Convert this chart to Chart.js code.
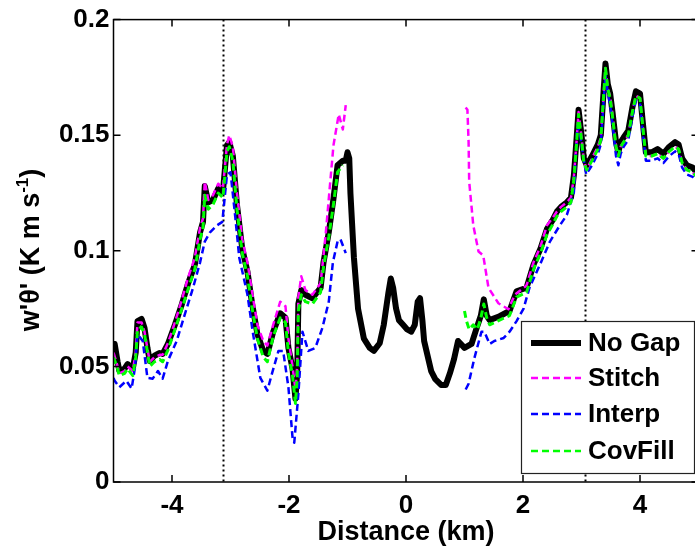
<!DOCTYPE html>
<html><head><meta charset="utf-8">
<script src="https://cdn.jsdelivr.net/npm/chart.js@4.4.1/dist/chart.umd.min.js"></script>
<style>
html,body{margin:0;padding:0;background:#fff;overflow:hidden;width:695px;height:551px;}
#wrap{position:relative;width:700px;height:551px;}
canvas{display:block;}
</style></head><body>
<div id="wrap"><canvas id="c" width="700" height="551"></canvas></div>
<script>
// ---------- DATA ----------
const xTickValues = [-4, -2, 0, 2, 4];
const yTickLabels = ['0', '0.05', '0.1', '0.15', '0.2'];
const markerLines = [-3.12, 3.06];
const seriesNames = ['No Gap', 'Stitch', 'Interp', 'CovFill'];

const noGapX = [-5.00,-4.98,-4.93,-4.90,-4.81,-4.76,-4.67,-4.62,-4.59,-4.52,-4.47,-4.42,-4.38,-4.30,-4.21,-4.16,-4.07,-3.95,-3.83,-3.73,-3.61,-3.52,-3.47,-3.44,-3.38,-3.30,-3.21,-3.13,-3.06,-3.02,-2.96,-2.89,-2.80,-2.71,-2.63,-2.54,-2.44,-2.37,-2.27,-2.15,-2.06,-2.01,-1.94,-1.89,-1.86,-1.84,-1.79,-1.72,-1.60,-1.46,-1.41,-1.32,-1.24,-1.17,-1.08,-1.03,-1.00,-0.97,-0.95,-0.89,-0.82,-0.72,-0.62,-0.55,-0.45,-0.38,-0.30,-0.26,-0.22,-0.17,-0.12,-0.05,0.02,0.09,0.15,0.20,0.24,0.28,0.31,0.43,0.50,0.60,0.68,0.75,0.82,0.89,1.00,1.12,1.20,1.28,1.33,1.38,1.43,1.60,1.77,1.89,2.06,2.18,2.30,2.41,2.50,2.58,2.65,2.75,2.82,2.87,2.92,2.95,3.00,3.04,3.09,3.18,3.28,3.33,3.38,3.41,3.45,3.49,3.53,3.59,3.63,3.67,3.72,3.80,3.87,3.93,4.00,4.05,4.10,4.20,4.30,4.40,4.50,4.60,4.66,4.72,4.80,4.90,5.00];
const noGapY = [0.058,0.0597,0.052,0.048,0.049,0.051,0.049,0.056,0.0696,0.0705,0.0666,0.058,0.0524,0.0546,0.0558,0.0554,0.0597,0.068,0.077,0.0855,0.094,0.108,0.1125,0.128,0.121,0.122,0.127,0.1254,0.1456,0.147,0.141,0.12,0.101,0.091,0.077,0.064,0.0567,0.0554,0.065,0.073,0.071,0.058,0.049,0.036,0.047,0.077,0.083,0.081,0.0795,0.084,0.095,0.108,0.1225,0.137,0.139,0.139,0.1426,0.140,0.125,0.097,0.075,0.062,0.058,0.0567,0.060,0.068,0.082,0.088,0.084,0.075,0.070,0.068,0.066,0.065,0.068,0.078,0.0795,0.070,0.061,0.048,0.0445,0.042,0.042,0.047,0.053,0.061,0.058,0.0597,0.066,0.072,0.079,0.072,0.070,0.0717,0.074,0.0825,0.084,0.094,0.101,0.1095,0.113,0.117,0.119,0.121,0.123,0.1327,0.150,0.161,0.150,0.140,0.137,0.141,0.146,0.150,0.170,0.181,0.172,0.168,0.160,0.147,0.1426,0.147,0.149,0.152,0.162,0.169,0.168,0.155,0.1426,0.1426,0.144,0.142,0.145,0.147,0.146,0.140,0.137,0.136,0.133];

const stitchLeftX = [-5.00,-4.93,-4.90,-4.81,-4.76,-4.67,-4.62,-4.59,-4.52,-4.47,-4.38,-4.30,-4.21,-4.16,-4.07,-3.95,-3.83,-3.73,-3.61,-3.52,-3.47,-3.44,-3.38,-3.30,-3.21,-3.13,-3.06,-3.02,-2.96,-2.89,-2.80,-2.71,-2.63,-2.54,-2.44,-2.37,-2.27,-2.15,-2.06,-2.01,-1.94,-1.89,-1.86,-1.84,-1.79,-1.72,-1.60,-1.46,-1.41,-1.37,-1.32,-1.24,-1.15,-1.08,-1.03];
const stitchLeftY = [0.056,0.050,0.047,0.048,0.050,0.048,0.056,0.069,0.069,0.065,0.052,0.054,0.055,0.055,0.060,0.069,0.079,0.088,0.097,0.110,0.114,0.130,0.122,0.124,0.129,0.127,0.146,0.150,0.145,0.125,0.105,0.095,0.082,0.068,0.061,0.059,0.068,0.078,0.076,0.062,0.050,0.040,0.050,0.080,0.089,0.083,0.081,0.086,0.098,0.108,0.1225,0.1456,0.159,0.1525,0.163];
const stitchRightX = [1.02,1.05,1.07,1.08,1.15,1.24,1.32,1.41,1.58,1.75,1.86,2.06,2.18,2.30,2.41,2.50,2.58,2.65,2.75,2.82,2.87,2.92,2.95,3.00,3.04,3.09,3.18,3.28,3.33,3.38,3.41,3.45,3.49,3.53,3.59,3.63,3.67,3.72,3.80,3.87,3.93,4.00,4.05,4.10,4.20,4.30,4.40,4.50,4.60,4.66,4.72,4.80,4.90,5.00];
const stitchRightY = [0.162,0.161,0.147,0.130,0.111,0.0997,0.098,0.084,0.0773,0.0747,0.081,0.085,0.095,0.102,0.111,0.114,0.117,0.119,0.121,0.123,0.132,0.149,0.160,0.149,0.139,0.135,0.140,0.145,0.149,0.168,0.179,0.170,0.167,0.159,0.145,0.141,0.145,0.147,0.150,0.160,0.167,0.166,0.153,0.141,0.141,0.142,0.140,0.143,0.145,0.144,0.138,0.135,0.134,0.131];

const interpLeftX = [-5.00,-4.98,-4.90,-4.78,-4.69,-4.63,-4.59,-4.50,-4.42,-4.33,-4.24,-4.16,-4.07,-3.92,-3.78,-3.64,-3.52,-3.44,-3.35,-3.23,-3.14,-3.06,-3.00,-2.92,-2.85,-2.71,-2.62,-2.49,-2.37,-2.29,-2.18,-2.10,-2.01,-1.94,-1.91,-1.84,-1.77,-1.67,-1.55,-1.43,-1.32,-1.25,-1.17,-1.12,-1.03];
const interpLeftY = [0.045,0.0438,0.041,0.0438,0.0404,0.050,0.064,0.061,0.045,0.0447,0.048,0.0447,0.0524,0.061,0.0726,0.084,0.095,0.104,0.108,0.111,0.1125,0.133,0.134,0.115,0.097,0.081,0.065,0.045,0.0395,0.047,0.0567,0.0567,0.041,0.0193,0.017,0.038,0.065,0.0567,0.058,0.0666,0.078,0.095,0.104,0.105,0.099];
const interpRightX = [1.02,1.07,1.17,1.29,1.34,1.43,1.51,1.67,1.77,1.89,2.01,2.11,2.29,2.46,2.63,2.75,2.87,2.93,2.97,3.03,3.08,3.18,3.28,3.33,3.38,3.41,3.45,3.49,3.53,3.59,3.63,3.67,3.72,3.80,3.87,3.93,4.00,4.05,4.10,4.20,4.30,4.40,4.50,4.60,4.66,4.72,4.80,4.90,5.00];
const interpRightY = [0.040,0.0425,0.0537,0.065,0.065,0.0597,0.061,0.0623,0.065,0.0696,0.075,0.084,0.094,0.104,0.111,0.1155,0.1254,0.154,0.151,0.141,0.133,0.137,0.142,0.146,0.165,0.176,0.168,0.163,0.155,0.141,0.137,0.142,0.145,0.148,0.158,0.165,0.164,0.150,0.139,0.139,0.140,0.138,0.141,0.143,0.142,0.136,0.133,0.132,0.130];

const covLeftX = [-5.00,-4.93,-4.90,-4.81,-4.76,-4.67,-4.62,-4.59,-4.52,-4.47,-4.38,-4.30,-4.21,-4.16,-4.07,-3.95,-3.83,-3.73,-3.61,-3.52,-3.47,-3.44,-3.38,-3.30,-3.21,-3.13,-3.06,-3.02,-2.96,-2.89,-2.80,-2.71,-2.63,-2.54,-2.44,-2.37,-2.27,-2.15,-2.06,-2.01,-1.94,-1.89,-1.86,-1.84,-1.79,-1.72,-1.60,-1.46,-1.41,-1.32,-1.24,-1.17,-1.08];
const covLeftY = [0.054,0.049,0.046,0.047,0.049,0.046,0.054,0.066,0.067,0.064,0.050,0.052,0.053,0.052,0.057,0.066,0.075,0.083,0.092,0.105,0.110,0.124,0.118,0.120,0.125,0.123,0.143,0.145,0.139,0.118,0.099,0.089,0.075,0.062,0.054,0.052,0.063,0.071,0.069,0.056,0.046,0.034,0.045,0.074,0.081,0.078,0.077,0.082,0.093,0.106,0.120,0.134,0.137];
const covRightX = [1.00,1.03,1.08,1.15,1.22,1.28,1.33,1.38,1.43,1.60,1.77,1.89,2.06,2.18,2.30,2.41,2.50,2.58,2.65,2.75,2.82,2.87,2.92,2.95,3.00,3.04,3.09,3.18,3.28,3.33,3.38,3.41,3.45,3.49,3.53,3.59,3.63,3.67,3.72,3.80,3.87,3.93,4.00,4.05,4.10,4.20,4.30,4.40,4.50,4.60,4.66,4.72,4.80,4.90,5.00];
const covRightY = [0.074,0.070,0.066,0.068,0.066,0.071,0.077,0.071,0.068,0.070,0.072,0.080,0.082,0.092,0.099,0.107,0.111,0.115,0.117,0.119,0.121,0.131,0.148,0.159,0.148,0.138,0.135,0.139,0.144,0.148,0.168,0.179,0.170,0.166,0.158,0.145,0.141,0.145,0.147,0.150,0.160,0.167,0.166,0.153,0.141,0.141,0.142,0.140,0.143,0.145,0.144,0.138,0.135,0.134,0.131];

// ---------- BUILD ----------
function pts(xs, ys) { return xs.map((x, i) => ({x: x, y: ys[i]})); }
function joined(lx, ly, rx, ry) { return pts(lx, ly).concat([{x: 0, y: null}], pts(rx, ry)); }

const FONT = '"Liberation Sans", Arial, sans-serif';
const colors = ['#000000', '#ff00ff', '#0000ff', '#00ff00'];
const widths = [6, 2.5, 2.5, 3];
const dashes = [[], [7, 4], [7, 4], [7, 4]];

const datasets = [
  {label: seriesNames[0], data: pts(noGapX, noGapY), order: 4},
  {label: seriesNames[1], data: joined(stitchLeftX, stitchLeftY, stitchRightX, stitchRightY), order: 3},
  {label: seriesNames[2], data: joined(interpLeftX, interpLeftY, interpRightX, interpRightY), order: 2},
  {label: seriesNames[3], data: joined(covLeftX, covLeftY, covRightX, covRightY), order: 1}
].map((d, i) => Object.assign(d, {
  borderColor: colors[i], backgroundColor: colors[i], borderWidth: widths[i], borderDash: dashes[i],
  pointRadius: 0, tension: 0, spanGaps: false, fill: false, borderJoinStyle: 'round', borderCapStyle: i === 0 ? 'round' : 'butt'
}));

const framePlugin = {
  id: 'frame',
  beforeDatasetsDraw(chart) {
    const {ctx, chartArea: a, scales: {x}} = chart;
    ctx.save();
    ctx.strokeStyle = '#000'; ctx.lineWidth = 2; ctx.setLineDash([2, 3]);
    markerLines.forEach(v => {
      const px = Math.round(x.getPixelForValue(v)) + 0.5;
      ctx.beginPath(); ctx.moveTo(px, a.top); ctx.lineTo(px, a.bottom); ctx.stroke();
    });
    ctx.restore();
  },
  afterDraw(chart) {
    const {ctx, chartArea: a, scales: {x, y}} = chart;
    ctx.save();
    ctx.strokeStyle = '#000'; ctx.lineWidth = 1.5; ctx.setLineDash([]);
    ctx.strokeRect(a.left, a.top, a.right - a.left, a.bottom - a.top);
    const tl = 7;
    ctx.beginPath();
    xTickValues.forEach(v => {
      const px = x.getPixelForValue(v);
      ctx.moveTo(px, a.bottom); ctx.lineTo(px, a.bottom - tl);
      ctx.moveTo(px, a.top); ctx.lineTo(px, a.top + tl);
    });
    yTickLabels.forEach(s => {
      const py = y.getPixelForValue(parseFloat(s));
      ctx.moveTo(a.left, py); ctx.lineTo(a.left + tl, py);
      ctx.moveTo(a.right, py); ctx.lineTo(a.right - tl, py);
    });
    ctx.stroke();

    // legend
    const bx = 521, by = 321, bw = 173, bh = 152;
    ctx.fillStyle = '#fff'; ctx.fillRect(bx, by, bw, bh);
    ctx.lineWidth = 1.2; ctx.strokeStyle = '#222'; ctx.strokeRect(bx + 0.5, by + 0.5, bw, bh);
    const rows = [343, 378, 414, 451];
    ctx.font = 'bold 26px ' + FONT; ctx.textBaseline = 'middle'; ctx.textAlign = 'left';
    seriesNames.forEach((n, i) => {
      ctx.strokeStyle = colors[i]; ctx.lineWidth = i === 0 ? 6 : 2.5;
      ctx.setLineDash(dashes[i]);
      ctx.beginPath(); ctx.moveTo(531, rows[i]); ctx.lineTo(581, rows[i]); ctx.stroke();
      ctx.setLineDash([]);
      ctx.fillStyle = '#000'; ctx.fillText(n, 588, rows[i] + 1);
    });

    // y title with superscript
    ctx.translate(32, 250); ctx.rotate(-Math.PI / 2);
    const f1 = 'bold 27px ' + FONT, f2 = 'bold 17px ' + FONT;
    const t1 = "w'\u03b8' (K m s", t2 = '-1', t3 = ')';
    ctx.font = f1; const w1 = ctx.measureText(t1).width, w3 = ctx.measureText(t3).width;
    ctx.font = f2; const w2 = ctx.measureText(t2).width;
    let sx = -(w1 + w2 + w3) / 2;
    ctx.fillStyle = '#000'; ctx.textBaseline = 'middle';
    ctx.font = f1; ctx.fillText(t1, sx, 0);
    ctx.font = f2; ctx.fillText(t2, sx + w1, -9);
    ctx.font = f1; ctx.fillText(t3, sx + w1 + w2, 0);
    ctx.restore();
  }
};

new Chart(document.getElementById('c'), {
  type: 'line',
  data: {datasets: datasets},
  options: {
    responsive: false, animation: false, devicePixelRatio: 1,
    layout: {padding: {left: 0, right: 1.5, top: 16, bottom: 0}},
    plugins: {legend: {display: false}, tooltip: {enabled: false}},
    scales: {
      x: {
        type: 'linear', min: -5, max: 5,
        grid: {display: false, drawTicks: false}, border: {display: false},
        afterBuildTicks: s => { s.ticks = xTickValues.map(v => ({value: v})); },
        afterFit: s => { s.height = 69; },
        ticks: {color: '#000', padding: 8, maxRotation: 0, font: {family: FONT, size: 26, weight: 'bold'},
                callback: v => String(v)},
        title: {display: true, text: 'Distance (km)', color: '#000', padding: {top: 0, bottom: 8},
                font: {family: FONT, size: 27, weight: 'bold', lineHeight: 0.8}}
      },
      y: {
        type: 'linear', min: 0, max: 0.2,
        grid: {display: false, drawTicks: false}, border: {display: false},
        afterBuildTicks: s => { s.ticks = yTickLabels.map(t => ({value: parseFloat(t)})); },
        afterFit: s => { s.width = 113.5; },
        ticks: {color: '#000', padding: 4, font: {family: FONT, size: 26, weight: 'bold'},
                callback: (v, i) => yTickLabels[i]}
      }
    }
  },
  plugins: [framePlugin]
});
</script>
</body></html>
